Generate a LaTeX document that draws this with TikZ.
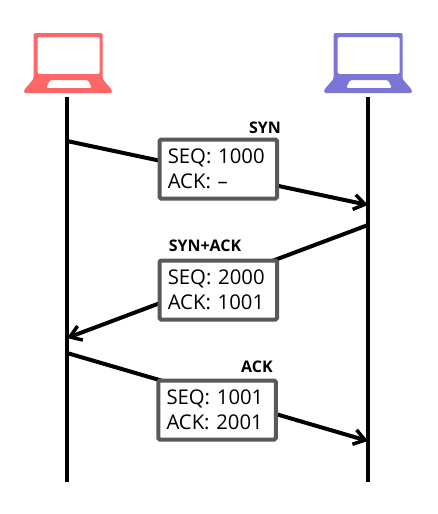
\documentclass[tikz,border=0pt]{standalone}
\usepackage{fontspec}
\setmainfont{Open Sans}
\usetikzlibrary{calc,positioning,arrows.meta}
\definecolor{HostRed}{HTML}{FF6666}
\definecolor{HostBlue}{HTML}{7B76D6}
\definecolor{BoxGray}{HTML}{595959}

\tikzset{
  laptop/.pic={
    \fill[rounded corners=1.5, even odd rule] (-34.5,-64) -- (34.5,-64) -- (34.5,-18) -- (44,-7) -- (44,-4) -- (-44,-4) -- (-44,-7) -- (-34.5,-18) -- cycle
      (-30.5,-60) rectangle (31.5,-23)
      (-18,-17) -- (20,-17) -- (24,-9) -- (-22,-9) -- cycle;
  },
  timeline/.style={line width=4pt},
  msgarrow/.style={line width=4pt, -{Straight Barb[length=11pt,width=15pt,line width=3.5pt]}},
  segbox/.style={
    draw=BoxGray, fill=white, line width=4pt, rounded corners=1.5pt,
    minimum width=117.5pt, minimum height=59pt, inner xsep=8pt, inner ysep=0pt,
    align=left, text width=101pt, font=\fontsize{20.3}{25}\selectfont
  },
  msglabel/.style={inner sep=0pt, font=\fontsize{16}{18}\selectfont\bfseries}
}

\begin{document}
\begin{tikzpicture}[x=1pt,y=-1pt]
    \useasboundingbox (0,0) rectangle (438,514);

    % hosts
    \pic[HostRed] at (68,97) {laptop};
    \pic[HostBlue] at (368,97) {laptop};

    \coordinate (clientTop) at (67,97);
    \coordinate (clientBottom) at (67,482);
    \coordinate (serverTop) at (368,97);
    \coordinate (serverBottom) at (368,482);
    \draw[timeline] (clientTop) -- (clientBottom);
    \draw[timeline] (serverTop) -- (serverBottom);

    % handshake
    \coordinate (synStart) at (67,141);
    \coordinate (synEnd) at (368,205);
    \coordinate (synackStart) at (368,225);
    \coordinate (synackEnd) at (67,338);
    \coordinate (ackStart) at (67,353);
    \coordinate (ackEnd) at (368,441);
    \draw[msgarrow] (synStart) -- (synEnd);
    \draw[msgarrow] (synackStart) -- (synackEnd);
    \draw[msgarrow] (ackStart) -- (ackEnd);

    \node[segbox] (synBox) at (218.3,169) {SEQ: 1000\\ACK: --};
    \node[segbox] (synackBox) at (218.3,290) {SEQ: 2000\\ACK: 1001};
    \node[segbox] (ackBox) at (217,410) {SEQ: 1001\\ACK: 2001};

    \node[msglabel] (synLabel) at (265,128) {SYN};
    \node[msglabel] (synackLabel) at (205,246) {SYN+ACK};
    \node[msglabel] (ackLabel) at (257,367) {ACK};
  \end{tikzpicture}
\end{document}
